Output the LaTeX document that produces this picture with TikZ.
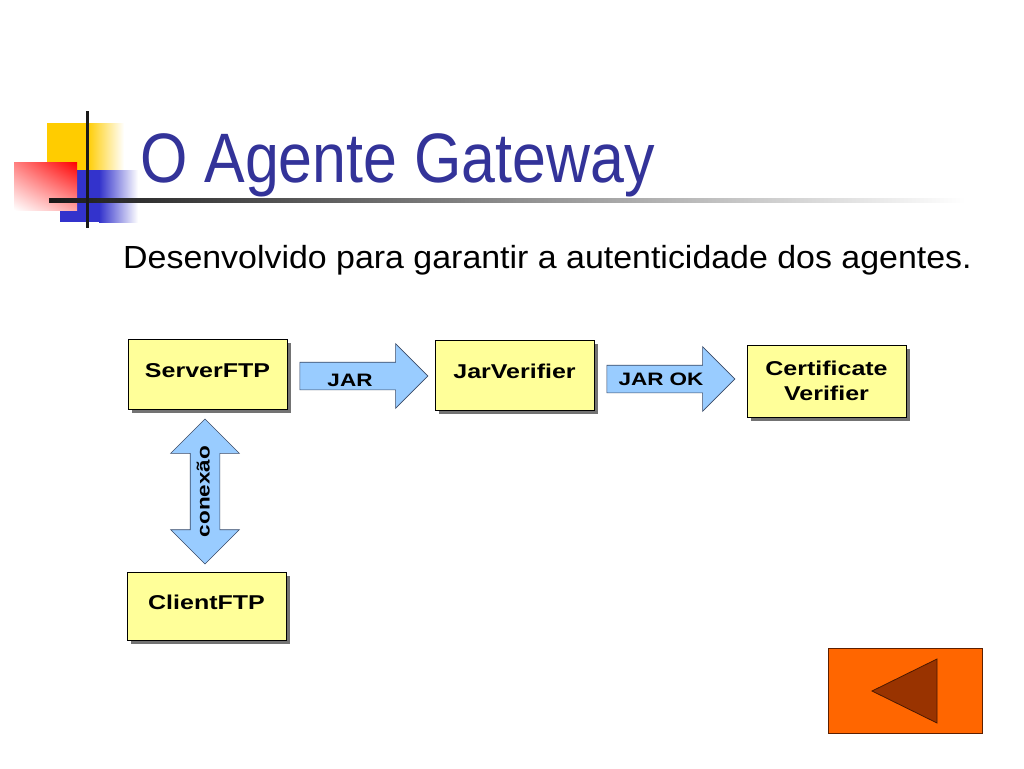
\documentclass[tikz,border=0pt]{standalone}
\usepackage{fontspec}
\setmainfont{Liberation Sans}
\newfontfamily\titlefont[FakeStretch=0.87]{Liberation Sans}
\newfontfamily\subfont[FakeStretch=1.06]{Liberation Sans}
\newfontfamily\boxfont[FakeStretch=1.25]{Liberation Sans}
\usetikzlibrary{shapes.arrows,shadows,shadings,positioning}
\definecolor{titleblue}{HTML}{333399}
\definecolor{boxyellow}{HTML}{FFFF99}
\definecolor{arrowblue}{HTML}{99CCFF}
\definecolor{arrowline}{HTML}{3A4A66}
\definecolor{decoyellow}{HTML}{FFCC00}
\definecolor{decoblue}{HTML}{3333CC}
\definecolor{btnorange}{HTML}{FF6600}
\definecolor{btnbrown}{HTML}{993300}
\begin{document}
\begin{tikzpicture}[x=1pt, y=-1pt,
	box/.style={draw=black, line width=0.8pt, fill=boxyellow, minimum width=159pt, minimum height=70pt, align=center,
		font=\boxfont\bfseries\fontsize{20}{25}\selectfont,
		general shadow={fill=black!55, shadow xshift=4pt, shadow yshift=-4pt}},
	oneline/.style={text height=14pt, text depth=8pt},
	flowtext/.style={font=\boxfont\bfseries\fontsize{18}{20}\selectfont, inner sep=0pt},
	flow/.style={single arrow, draw=arrowline, line width=0.6pt, fill=arrowblue, minimum height=128pt,
		single arrow head extend=18.5pt, text height=13pt, text depth=4pt, inner ysep=5pt,
		font=\boxfont\bfseries\fontsize{18}{20}\selectfont}]
	\useasboundingbox[fill=white] (0,0) rectangle (1024,768);
	% title decoration
	\fill[decoyellow] (47,123) rectangle (88,172);
	\shade[left color=decoyellow, right color=white] (87,123) rectangle (124,172);
	\fill[decoblue] (60,170) rectangle (100,222);
	\shade[left color=decoblue, right color=white] (99,170) rectangle (138,222);
	\shade[upper right=red, upper left=red!50, lower right=red!35, lower left=white] (14,162) rectangle (77,210);
	\shade[left color=black!90, middle color=black!35, right color=white] (49,198) rectangle (965,202);
	\fill[black!90] (85.5,111) rectangle (88.5,228);
	\node[anchor=base west, text=titleblue, font=\titlefont\fontsize{70}{80}\selectfont, inner sep=0pt] (title) at (140,182) {O Agente Gateway};
	\node[anchor=base west, font=\subfont\fontsize{32}{38}\selectfont, inner sep=0pt] (subtitle) at (123,268) {Desenvolvido para garantir a autenticidade dos agentes.};
	% diagram
	\node[box, oneline] (server) at (207.5,374) {ServerFTP};
	\node[box, oneline] (jarverif) at (514.5,375) {JarVerifier};
	\node[box, minimum height=72pt] (certverif) at (826.5,381) {Certificate\\Verifier};
	\node[box, oneline, minimum height=68pt] (client) at (206.5,606) {ClientFTP};
	\node[flow] (jar) at (357,376) {\phantom{JAR}};
	\node[flowtext] (jarlabel) at ([xshift=-7pt, yshift=-4pt]jar.center) {JAR};
	\node[flow] (jarok) at (664,379) {\phantom{JAR OK}};
	\node[flowtext] (jaroklabel) at ([xshift=-3pt]jarok.center) {JAR OK};
	\node[flow, double arrow, double arrow head extend=19.5pt, inner ysep=6pt, minimum height=145pt, rotate=90] (conexao) at (205,491.5) {conexão};
	% back button
	\draw[draw=btnbrown!60!black, line width=0.8pt, fill=btnorange] (828,648) rectangle (982,733);
	\draw[draw=btnbrown!50!black, line width=0.8pt, fill=btnbrown] (872,691) -- (937,659) -- (937,723) -- cycle;
\end{tikzpicture}
\end{document}
